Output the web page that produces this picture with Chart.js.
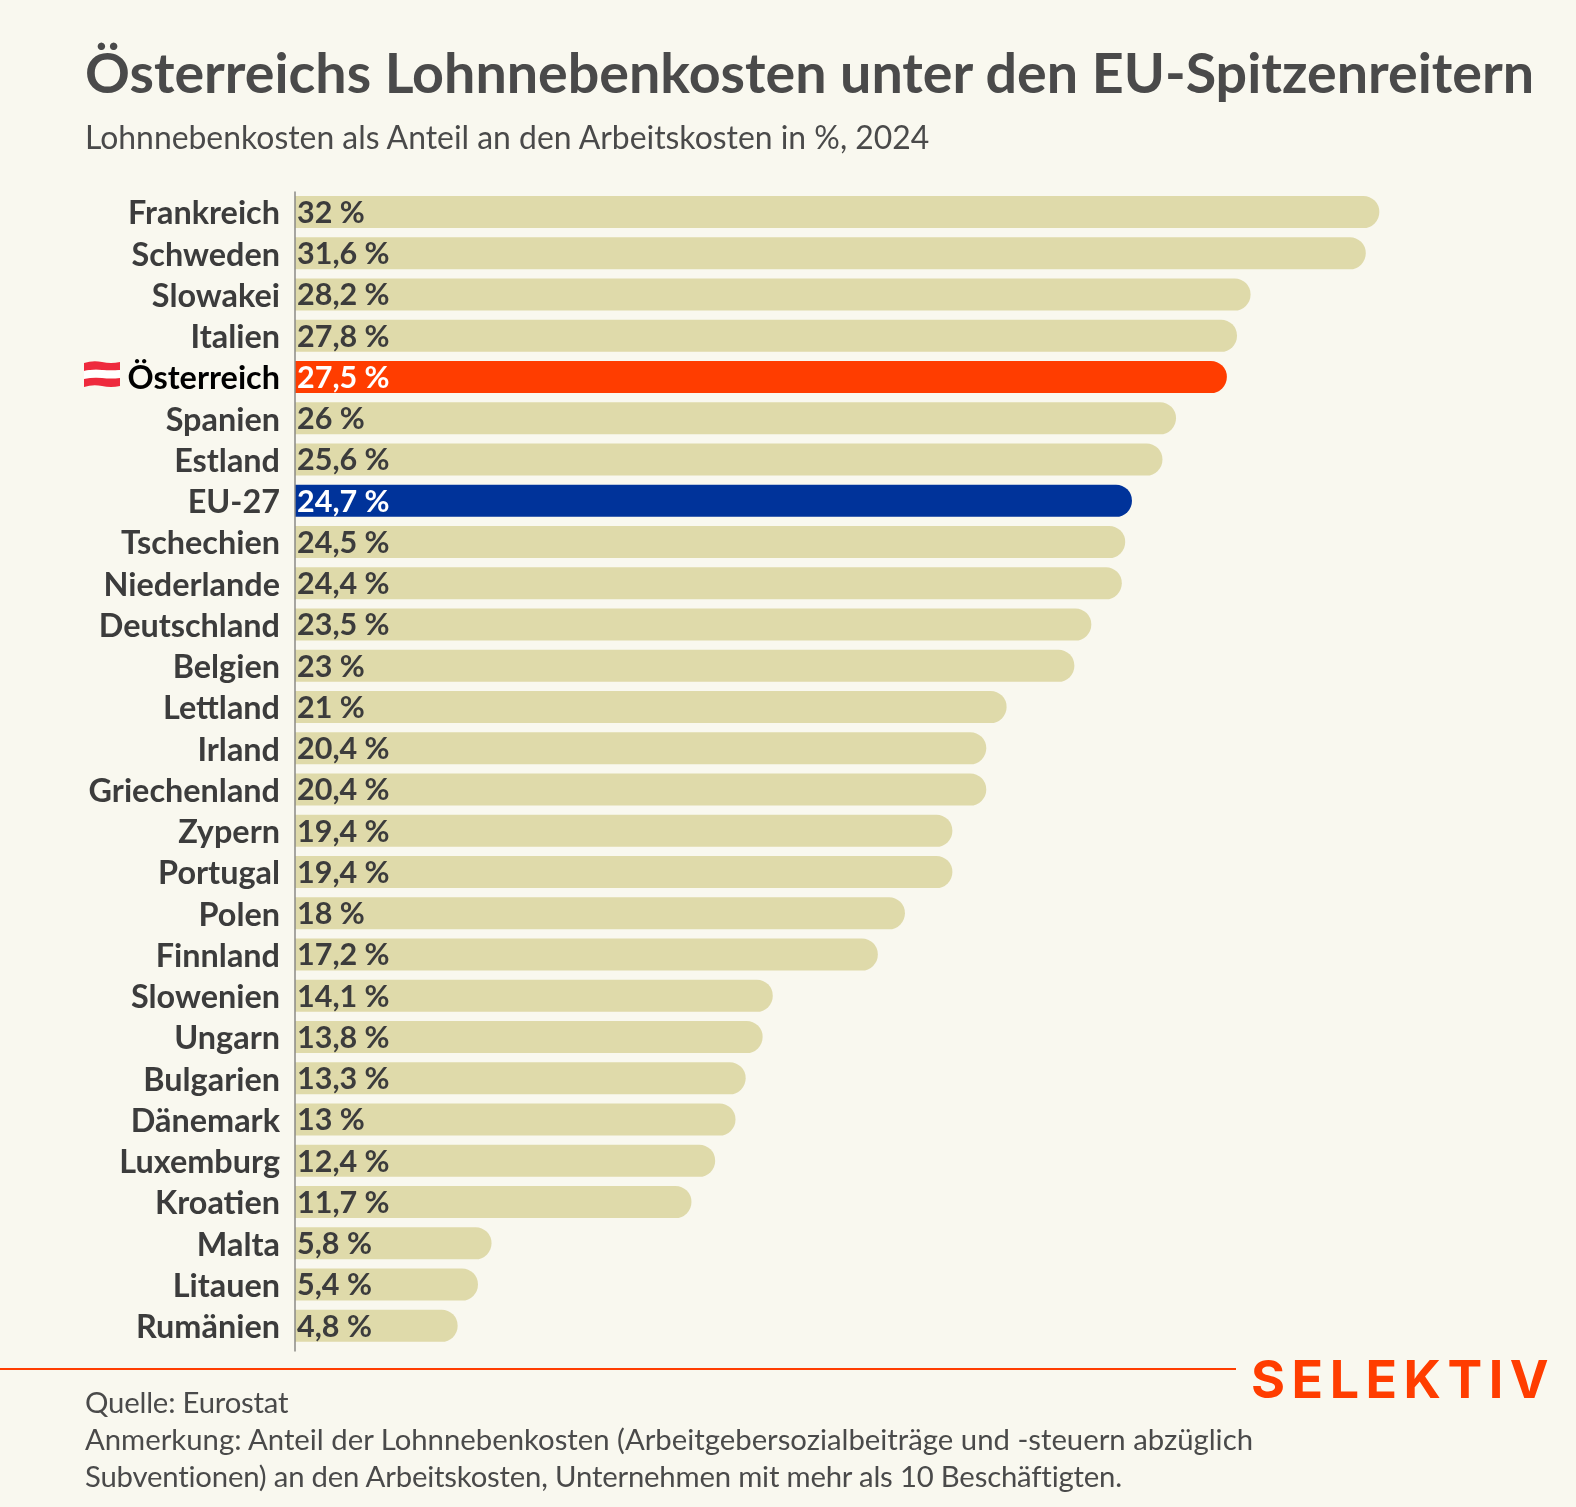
<!DOCTYPE html>
<html lang="de">
<head>
<meta charset="utf-8">
<title>Lohnnebenkosten</title>
<script src="https://cdn.jsdelivr.net/npm/chart.js@4"></script>
<style>
  html, body { margin: 0; padding: 0; background: #f9f8ef; }
  #page { position: relative; width: 1576px; height: 1507px; overflow: hidden; font-family: Lato, sans-serif; color: #4a4a4a; }
  #page div, #page svg { position: absolute; white-space: nowrap; }
  canvas { position: absolute; left: 0; top: 0; }
  #title { left: 85px; top: 38px; font-size: 55.6px; font-weight: 700; line-height: 68px; }
  #subtitle { left: 85px; top: 119px; font-size: 31.9px; line-height: 36px; }
  #rule { left: 0; top: 1368px; width: 1236px; height: 2px; background: #ff3d00; }
  #logo { left: 1251px; top: 1352px; font-family: Inter, sans-serif; font-size: 52px; font-weight: 700; line-height: 56px; letter-spacing: 6.5px; color: #ff3d00; }
  .note { left: 85px; font-size: 29.3px; line-height: 36px; }
</style>
</head>
<body>
<div id="page">
  <canvas id="chart" width="1576" height="1507"></canvas>
  <div id="title">Österreichs Lohnnebenkosten unter den EU-Spitzenreitern</div>
  <div id="subtitle">Lohnnebenkosten als Anteil an den Arbeitskosten in %, 2024</div>
  <svg style="left:83px;top:360px" width="38" height="29" viewBox="0 0 38 29">
    <path d="M1 3 Q10 0 19 2 T37 2 V10 Q28 11 19 10 T1 11 Z" fill="#ee2a3d"/>
    <path d="M1 11 Q10 9 19 10 T37 10 V18 Q28 19 19 18 T1 19 Z" fill="#fff"/>
    <path d="M1 19 Q10 17 19 18 T37 18 V26 Q28 28 19 26 T1 27 Z" fill="#ee2a3d"/>
  </svg>
  <div id="rule"></div>
  <div id="logo">SELEKTIV</div>
  <div class="note" style="top:1384px;letter-spacing:-0.2px">Quelle: Eurostat</div>
  <div class="note" style="top:1421px">Anmerkung: Anteil der Lohnnebenkosten (Arbeitgebersozialbeiträge und -steuern abzüglich</div>
  <div class="note" style="top:1458px;letter-spacing:-0.19px">Subventionen) an den Arbeitskosten, Unternehmen mit mehr als 10 Beschäftigten.</div>
</div>
<script>
const countries = ['Frankreich', 'Schweden', 'Slowakei', 'Italien', 'Österreich', 'Spanien', 'Estland', 'EU-27', 'Tschechien', 'Niederlande', 'Deutschland', 'Belgien', 'Lettland', 'Irland', 'Griechenland', 'Zypern', 'Portugal', 'Polen', 'Finnland', 'Slowenien', 'Ungarn', 'Bulgarien', 'Dänemark', 'Luxemburg', 'Kroatien', 'Malta', 'Litauen', 'Rumänien'];
const shares = [32, 31.6, 28.2, 27.8, 27.5, 26, 25.6, 24.7, 24.5, 24.4, 23.5, 23, 21, 20.4, 20.4, 19.4, 19.4, 18, 17.2, 14.1, 13.8, 13.3, 13, 12.4, 11.7, 5.8, 5.4, 4.8];

const barColor = name => name === 'Österreich' ? '#ff3d00' : name === 'EU-27' ? '#00339a' : '#dfdaaa';

// Wertbeschriftung im Balken, Komma statt Punkt; Achsenlinie etwas laenger als die Zeilen
const valueLabels = {
    id: 'valueLabels',
    afterDatasetsDraw(chart) {
        const { ctx, scales } = chart;
        const x0 = scales.x.getPixelForValue(0);
        ctx.save();
        ctx.strokeStyle = '#8a8a86';
        ctx.lineWidth = 1.5;
        ctx.beginPath();
        ctx.moveTo(x0, scales.y.top);
        ctx.lineTo(x0, scales.y.bottom + 5);
        ctx.stroke();
        ctx.font = '700 30.5px Lato';
        ctx.textBaseline = 'middle';
        chart.getDatasetMeta(0).data.forEach((bar, i) => {
            const name = countries[i];
            ctx.fillStyle = (name === 'Österreich' || name === 'EU-27') ? '#fff' : '#3c3c3c';
            ctx.fillText(String(shares[i]).replace('.', ',') + ' %', x0 + 2, bar.y + 1);
        });
        ctx.restore();
    }
};

new Chart(document.getElementById('chart'), {
    type: 'bar',
    data: {
        labels: countries,
        datasets: [{
            data: shares,
            backgroundColor: countries.map(barColor),
            borderRadius: { topRight: 16, bottomRight: 16 },
            borderSkipped: false,
            categoryPercentage: 1,
            barPercentage: 0.78
        }]
    },
    options: {
        indexAxis: 'y',
        responsive: false,
        animation: false,
        layout: { padding: { top: 191.4, bottom: 160.6, right: 95 } },
        plugins: { legend: { display: false }, tooltip: { enabled: false } },
        scales: {
            x: { display: false, min: 0, max: 35 },
            y: {
                afterFit(scale) { scale.width = 295; },
                grid: { display: false },
                border: { display: false },
                ticks: {
                    autoSkip: false,
                    padding: 7,
                    labelOffset: 2,
                    font: { family: 'Lato', size: 32.4, weight: '700' },
                    color: ctx => ctx.tick.label === 'Österreich' ? '#000' : '#3c3c3c'
                }
            }
        }
    },
    plugins: [valueLabels]
});
</script>
</body>
</html>
